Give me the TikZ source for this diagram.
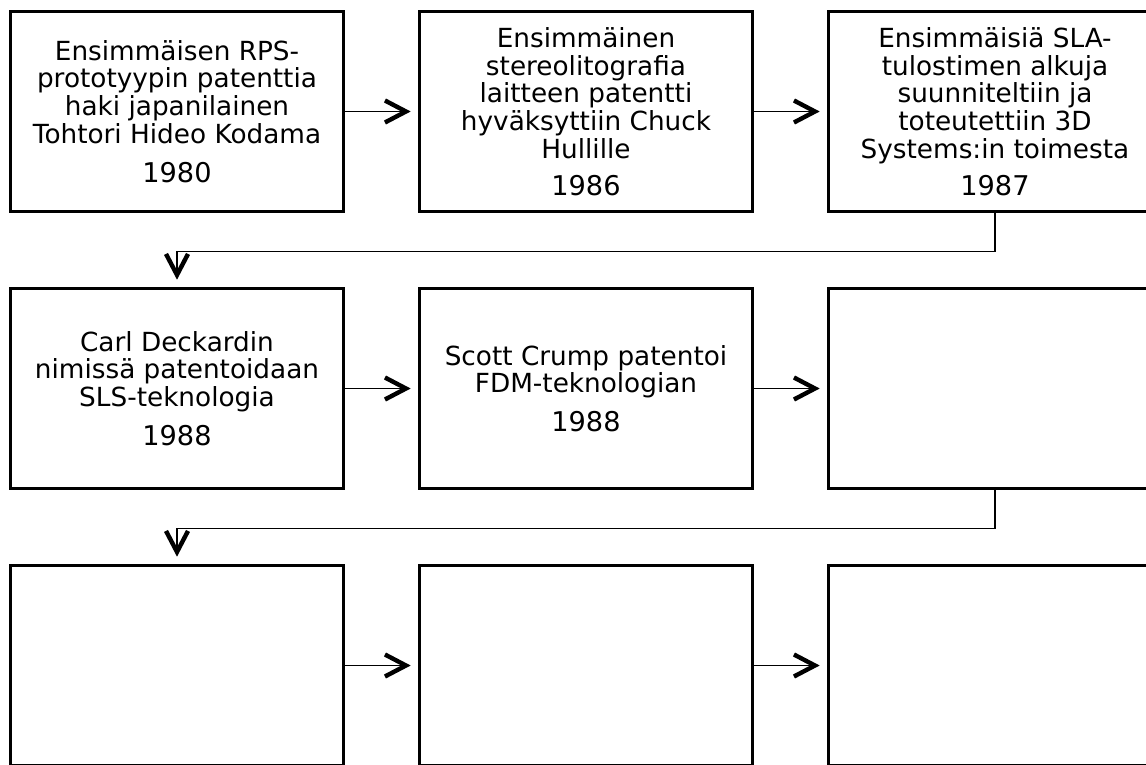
\documentclass[tikz,border=0pt]{standalone}
\usepackage{fontspec}
\setmainfont{DejaVu Sans}
\usetikzlibrary{arrows.meta}
\newcommand{\yr}[1]{{\fontsize{27.2}{27.8}\selectfont #1}}
\tikzset{
  box/.style={draw=black, line width=2.6pt, minimum width=333pt, minimum height=200pt,
    inner sep=0pt, align=center, font=\fontsize{26.3}{27.8}\selectfont},
  conn/.style={draw=black, line width=1.3pt, shorten >=7.5pt,
    -{Straight Barb[length=21pt, width=22pt, line width=4.4pt]}},
}
\begin{document}
\begin{tikzpicture}[x=1pt,y=1pt]
\useasboundingbox (0,0) rectangle (1146,-765);
\clip (0,0) rectangle (1146,-765);
\node[box] (b1) at (177,-111.5) {Ensimmäisen RPS-\\prototyypin patenttia\\haki japanilainen\\Tohtori Hideo Kodama\\[11pt]\yr{1980}};
\node[box] (b2) at (586,-111.5) {Ensimmäinen\\stereolitografia\\laitteen patentti\\hyväksyttiin Chuck\\Hullille\\[9pt]\yr{1986}};
\node[box] (b3) at (995,-111.5) {Ensimmäisiä SLA-\\tulostimen alkuja\\suunniteltiin ja\\toteutettiin 3D\\Systems:in toimesta\\[9pt]\yr{1987}};
\node[box] (b4) at (177,-388.5) {Carl Deckardin\\nimissä patentoidaan\\SLS-teknologia\\[11pt]\yr{1988}};
\node[box] (b5) at (586,-388.5) {Scott Crump patentoi\\FDM-teknologian\\[11pt]\yr{1988}};
\node[box] (b6) at (995,-388.5) {};
\node[box] (b7) at (177,-665.5) {};
\node[box] (b8) at (586,-665.5) {};
\node[box] (b9) at (995,-665.5) {};
\draw[conn] (b1.east) -- (b2.west);
\draw[conn] (b2.east) -- (b3.west);
\draw[conn] (b4.east) -- (b5.west);
\draw[conn] (b5.east) -- (b6.west);
\draw[conn] (b7.east) -- (b8.west);
\draw[conn] (b8.east) -- (b9.west);
\draw[conn] (b3.south) -- ++(0,-38.5) -| (b4.north);
\draw[conn] (b6.south) -- ++(0,-38.5) -| (b7.north);
\end{tikzpicture}
\end{document}
